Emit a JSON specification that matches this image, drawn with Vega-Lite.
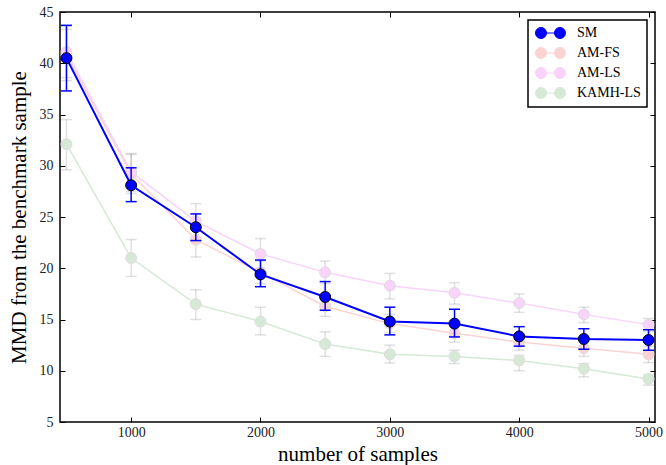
{
  "$schema": "https://vega.github.io/schema/vega-lite/v6.json",
  "width": 595,
  "height": 410,
  "autosize": "none",
  "padding": {"left": 60, "top": 12, "right": 11, "bottom": 43},
  "config": {
    "font": "Liberation Serif",
    "view": {"stroke": "black", "strokeWidth": 1.5},
    "axis": {"grid": false, "domain": false, "tickColor": "black", "tickWidth": 1, "labelFont": "Liberation Serif", "labelFontSize": 14, "labelColor": "#222", "titleFont": "Liberation Serif", "titleFontSize": 21, "titleFontWeight": "normal", "titleColor": "black"},
    "legend": {
      "orient": "top-right", "offset": 8, "fillColor": "white", "strokeColor": "black", "strokeWidth": 1.5, "padding": 6,
      "labelFont": "Liberation Serif", "labelFontSize": 14, "labelColor": "black", "labelOffset": 29, "rowPadding": 4,
      "symbolType": "M 1 0 A 1 1 0 1 1 -1 0 A 1 1 0 1 1 1 0 Z M 1 0 L 2.45 0 M 4.45 0 A 1 1 0 1 1 2.45 0 A 1 1 0 1 1 4.45 0 Z",
      "symbolSize": 121, "symbolStrokeWidth": 1
    }
  },
  "data": {"values": [
    {"series": "SM", "n": 500, "mmd": 40.5, "lo": 37.3, "hi": 43.7},
    {"series": "SM", "n": 1000, "mmd": 28.1, "lo": 26.5, "hi": 29.8},
    {"series": "SM", "n": 1500, "mmd": 24.0, "lo": 22.7, "hi": 25.3},
    {"series": "SM", "n": 2000, "mmd": 19.4, "lo": 18.2, "hi": 20.8},
    {"series": "SM", "n": 2500, "mmd": 17.2, "lo": 15.9, "hi": 18.7},
    {"series": "SM", "n": 3000, "mmd": 14.8, "lo": 13.5, "hi": 16.2},
    {"series": "SM", "n": 3500, "mmd": 14.6, "lo": 13.3, "hi": 16.0},
    {"series": "SM", "n": 4000, "mmd": 13.35, "lo": 12.4, "hi": 14.3},
    {"series": "SM", "n": 4500, "mmd": 13.1, "lo": 12.1, "hi": 14.1},
    {"series": "SM", "n": 5000, "mmd": 13.0, "lo": 12.0, "hi": 14.0},
    {"series": "AM-FS", "n": 500, "mmd": 40.8, "lo": 38.3, "hi": 43.3},
    {"series": "AM-FS", "n": 1000, "mmd": 29.2, "lo": 27.3, "hi": 31.1},
    {"series": "AM-FS", "n": 1500, "mmd": 22.8, "lo": 21.1, "hi": 24.5},
    {"series": "AM-FS", "n": 2000, "mmd": 19.6, "lo": 18.5, "hi": 20.7},
    {"series": "AM-FS", "n": 2500, "mmd": 16.3, "lo": 15.3, "hi": 17.3},
    {"series": "AM-FS", "n": 3000, "mmd": 14.6, "lo": 13.7, "hi": 15.5},
    {"series": "AM-FS", "n": 3500, "mmd": 13.65, "lo": 12.8, "hi": 14.5},
    {"series": "AM-FS", "n": 4000, "mmd": 12.8, "lo": 12.0, "hi": 13.6},
    {"series": "AM-FS", "n": 4500, "mmd": 12.2, "lo": 11.4, "hi": 13.0},
    {"series": "AM-FS", "n": 5000, "mmd": 11.6, "lo": 10.8, "hi": 12.4},
    {"series": "AM-LS", "n": 500, "mmd": 41.1, "lo": 38.6, "hi": 43.6},
    {"series": "AM-LS", "n": 1000, "mmd": 29.4, "lo": 27.5, "hi": 31.2},
    {"series": "AM-LS", "n": 1500, "mmd": 24.6, "lo": 23.0, "hi": 26.3},
    {"series": "AM-LS", "n": 2000, "mmd": 21.4, "lo": 20.0, "hi": 22.9},
    {"series": "AM-LS", "n": 2500, "mmd": 19.6, "lo": 18.5, "hi": 20.7},
    {"series": "AM-LS", "n": 3000, "mmd": 18.3, "lo": 17.0, "hi": 19.5},
    {"series": "AM-LS", "n": 3500, "mmd": 17.6, "lo": 16.5, "hi": 18.6},
    {"series": "AM-LS", "n": 4000, "mmd": 16.6, "lo": 15.7, "hi": 17.5},
    {"series": "AM-LS", "n": 4500, "mmd": 15.5, "lo": 14.7, "hi": 16.2},
    {"series": "AM-LS", "n": 5000, "mmd": 14.5, "lo": 13.8, "hi": 15.1},
    {"series": "KAMH-LS", "n": 500, "mmd": 32.1, "lo": 29.6, "hi": 34.5},
    {"series": "KAMH-LS", "n": 1000, "mmd": 21.0, "lo": 19.2, "hi": 22.8},
    {"series": "KAMH-LS", "n": 1500, "mmd": 16.5, "lo": 15.0, "hi": 17.9},
    {"series": "KAMH-LS", "n": 2000, "mmd": 14.8, "lo": 13.5, "hi": 16.2},
    {"series": "KAMH-LS", "n": 2500, "mmd": 12.6, "lo": 11.4, "hi": 13.8},
    {"series": "KAMH-LS", "n": 3000, "mmd": 11.6, "lo": 10.75, "hi": 12.5},
    {"series": "KAMH-LS", "n": 3500, "mmd": 11.4, "lo": 10.7, "hi": 12.0},
    {"series": "KAMH-LS", "n": 4000, "mmd": 11.0, "lo": 10.0, "hi": 11.5},
    {"series": "KAMH-LS", "n": 4500, "mmd": 10.2, "lo": 9.4, "hi": 10.7},
    {"series": "KAMH-LS", "n": 5000, "mmd": 9.2, "lo": 8.6, "hi": 9.6}
  ]},
  "layer": [
    {
      "layer": [
        {
          "transform": [{"filter": "datum.series !== 'SM'"}],
          "mark": {"type": "rule", "color": "black", "opacity": 0.12, "strokeWidth": 1.5},
          "encoding": {
            "x": {"field": "n", "type": "quantitative", "scale": {"domain": [450, 5050], "nice": false, "zero": false},
                  "axis": {"values": [1000, 2000, 3000, 4000, 5000], "format": "d", "title": "number of samples", "titleFontSize": 21, "titleBaseline": "alphabetic", "titleY": 38, "tickSize": -5, "labelPadding": 8, "labelFlush": false}},
            "y": {"field": "lo", "type": "quantitative", "scale": {"domain": [5, 45], "nice": false, "zero": false},
                  "axis": {"values": [5, 10, 15, 20, 25, 30, 35, 40, 45], "title": "MMD from the benchmark sample", "tickSize": -5, "labelPadding": 12, "titlePadding": 10, "labelFlush": false}},
            "y2": {"field": "hi"}
          }
        },
        {
          "transform": [{"filter": "datum.series !== 'SM'"}],
          "mark": {"type": "tick", "orient": "horizontal", "color": "black", "opacity": 0.12, "size": 11, "thickness": 1.5},
          "encoding": {"x": {"field": "n", "type": "quantitative"}, "y": {"field": "lo", "type": "quantitative"}}
        },
        {
          "transform": [{"filter": "datum.series !== 'SM'"}],
          "mark": {"type": "tick", "orient": "horizontal", "color": "black", "opacity": 0.12, "size": 11, "thickness": 1.5},
          "encoding": {"x": {"field": "n", "type": "quantitative"}, "y": {"field": "hi", "type": "quantitative"}}
        },
        {
          "transform": [{"filter": "datum.series !== 'SM'"}],
          "mark": {"type": "line", "strokeWidth": 1.5},
          "encoding": {
            "x": {"field": "n", "type": "quantitative"},
            "y": {"field": "mmd", "type": "quantitative"},
            "color": {"field": "series", "type": "nominal",
              "scale": {"domain": ["SM", "AM-FS", "AM-LS", "KAMH-LS"], "range": ["#0000ff", "#fbd3d3", "#f9d3f9", "#d6e8d6"]},
              "legend": {"title": null,
                "encode": {"symbols": {"update": {
                  "fill": {"signal": "scale('color', datum.value)"},
                  "stroke": {"signal": "datum.value === 'SM' ? 'black' : scale('color', datum.value)"},
                  "opacity": {"value": 1}}}}}}
          }
        },
        {
          "transform": [{"filter": "datum.series !== 'SM'"}],
          "mark": {"type": "point", "filled": true, "size": 120, "opacity": 1, "strokeWidth": 1, "stroke": "#dddddd"},
          "encoding": {
            "x": {"field": "n", "type": "quantitative"},
            "y": {"field": "mmd", "type": "quantitative"},
            "color": {"field": "series", "type": "nominal"}
          }
        },
        {
          "transform": [{"filter": "datum.series === 'SM'"}],
          "mark": {"type": "line", "strokeWidth": 2},
          "encoding": {
            "x": {"field": "n", "type": "quantitative"},
            "y": {"field": "mmd", "type": "quantitative"},
            "color": {"field": "series", "type": "nominal"}
          }
        },
        {
          "transform": [{"filter": "datum.series === 'SM'"}],
          "mark": {"type": "rule", "color": "#0000ff", "strokeWidth": 1.5},
          "encoding": {"x": {"field": "n", "type": "quantitative"}, "y": {"field": "lo", "type": "quantitative"}, "y2": {"field": "hi"}}
        },
        {
          "transform": [{"filter": "datum.series === 'SM'"}],
          "mark": {"type": "tick", "orient": "horizontal", "color": "#0000ff", "opacity": 1, "size": 11, "thickness": 1.5},
          "encoding": {"x": {"field": "n", "type": "quantitative"}, "y": {"field": "lo", "type": "quantitative"}}
        },
        {
          "transform": [{"filter": "datum.series === 'SM'"}],
          "mark": {"type": "tick", "orient": "horizontal", "color": "#0000ff", "opacity": 1, "size": 11, "thickness": 1.5},
          "encoding": {"x": {"field": "n", "type": "quantitative"}, "y": {"field": "hi", "type": "quantitative"}}
        },
        {
          "transform": [{"filter": "datum.series === 'SM'"}],
          "mark": {"type": "point", "filled": true, "size": 120, "opacity": 1, "stroke": "black", "strokeWidth": 1},
          "encoding": {
            "x": {"field": "n", "type": "quantitative"},
            "y": {"field": "mmd", "type": "quantitative"},
            "color": {"field": "series", "type": "nominal"}
          }
        }
      ]
    },
    {
      "transform": [{"filter": "datum.series === 'SM'"}],
      "mark": {"type": "point", "opacity": 0},
      "encoding": {
        "x": {"field": "n", "type": "quantitative", "axis": {"orient": "top", "values": [1000, 2000, 3000, 4000, 5000], "labels": false, "title": null, "tickSize": -5}},
        "y": {"field": "mmd", "type": "quantitative", "axis": {"orient": "right", "values": [5, 10, 15, 20, 25, 30, 35, 40, 45], "labels": false, "title": null, "tickSize": -5}}
      }
    }
  ],
  "resolve": {"axis": {"x": "independent", "y": "independent"}}
}
